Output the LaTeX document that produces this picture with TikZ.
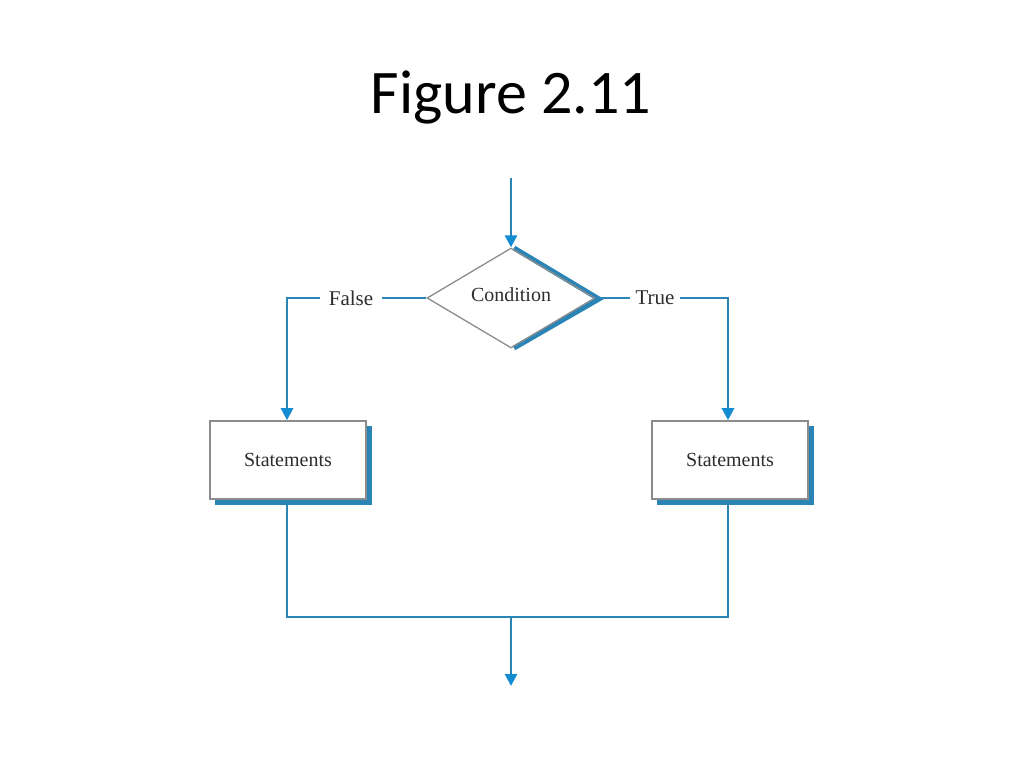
\documentclass[tikz,border=0pt]{standalone}
\usepackage{fontspec}
\setmainfont{Liberation Serif}
\newfontfamily\titlefont{Carlito}
\usetikzlibrary{shapes.geometric,arrows.meta,calc}
\definecolor{flow}{RGB}{42,132,182}
\definecolor{tipblue}{RGB}{20,140,210}
\definecolor{edgegray}{RGB}{140,140,140}
\definecolor{txt}{RGB}{45,45,45}
\tikzset{
  flowline/.style={draw=flow,line width=2.6pt},
  arr/.style={flowline,-{Triangle[length=12pt,width=12pt,color=tipblue]}},
  stmt/.style={draw=edgegray,line width=1.6pt,fill=white,minimum width=156pt,minimum height=78pt,inner sep=0pt,font=\fontsize{20}{22}\selectfont,text=txt},
  lbl/.style={font=\fontsize{21}{23}\selectfont,text=txt,inner sep=0pt},
  cond/.style={diamond,aspect=1.68,draw=edgegray,line width=1.3pt,minimum width=168pt,minimum height=100pt,inner sep=0pt,font=\fontsize{20}{22}\selectfont,text=txt}
}
\begin{document}
\begin{tikzpicture}[x=1pt,y=-1pt]
\useasboundingbox (0,0) rectangle (1024,768);
\node[font=\titlefont\fontsize{62}{70}\selectfont,text=black] (title) at (511,97) {Figure 2.11};
% diamond shadow
\coordinate (dT) at (511,248);
\coordinate (dR) at (598,298);
\coordinate (dB) at (511,348);
\draw[draw=flow,line width=5pt,line join=miter] ($(dT)+(3,0)$) -- ($(dR)+(1,1)$) -- ($(dB)+(3,0)$);
\node[cond] (c) at (511,298) {};
\node[font=\fontsize{20}{22}\selectfont,text=txt] (ctext) at (511,295) {Condition};
% boxes with shadow
\fill[flow] (215,426) rectangle (372,505);
\node[stmt] (s1) at (288,460) {Statements};
\fill[flow] (657,426) rectangle (814,505);
\node[stmt] (s2) at (730,460) {Statements};
% labels
\node[lbl] (f) at (351,298) {False};
\node[lbl] (t) at (655,298) {True};
% connectors
\coordinate (start) at (511,178);
\draw[arr] (start) -- (c.north);
\draw[flowline] (c.west) -- ($(f.east)+(9,0)$);
\coordinate (fl) at (287,298);
\draw[arr] ($(f.west)+(-9,0)$) -- (fl) -- (s1.north -| fl);
\draw[flowline] (c.east) -- ($(t.west)+(-5,0)$);
\coordinate (tr) at (728,298);
\draw[arr] ($(t.east)+(5,0)$) -- (tr) -- (s2.north -| tr);
\coordinate (bl) at (287,617);
\coordinate (br) at (728,617);
\coordinate (bm) at (511,617);
\coordinate (end) at (511,686);
\draw[flowline] (s1.south -| bl) -- (bl) -- (br) -- (s2.south -| br);
\draw[arr] (bm) -- (end);
\end{tikzpicture}
\end{document}
